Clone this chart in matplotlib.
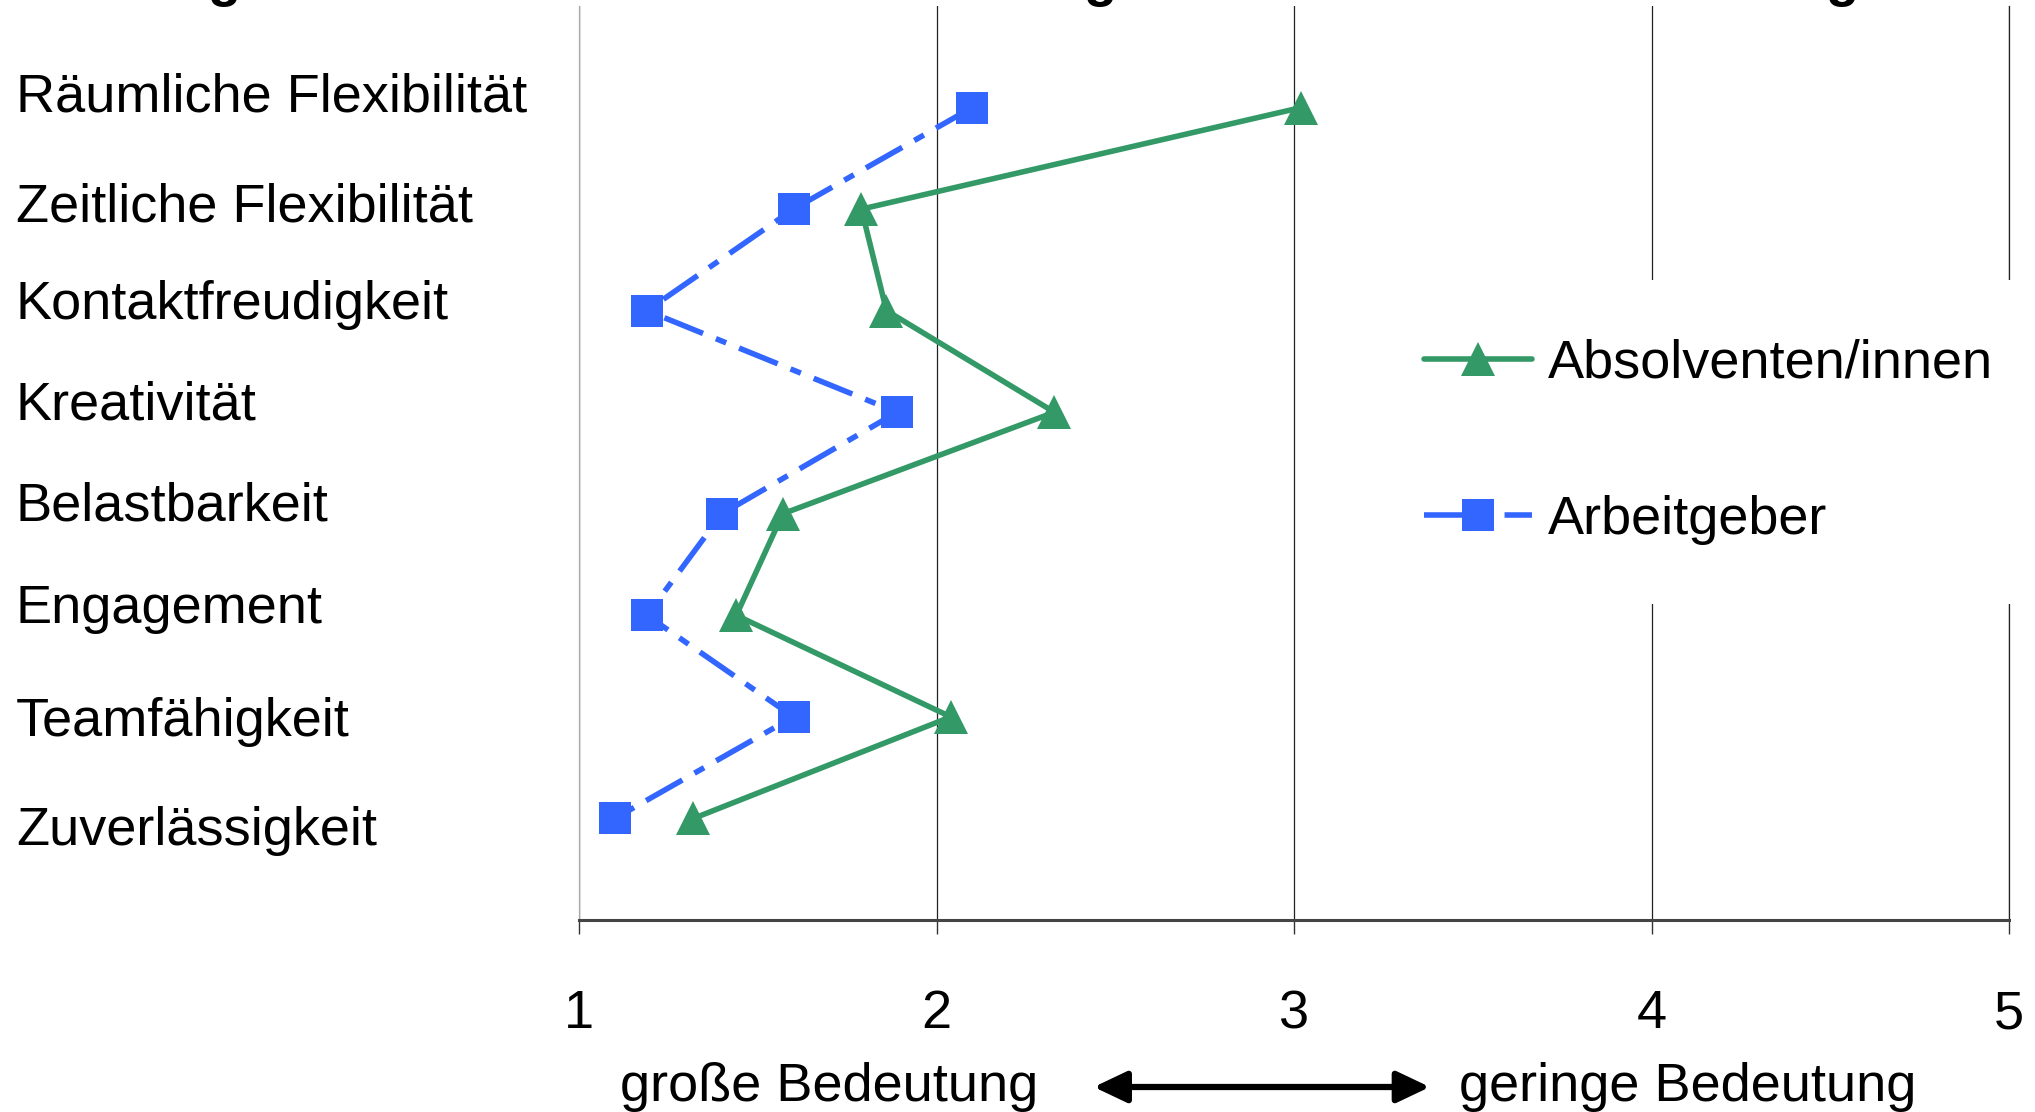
import matplotlib
matplotlib.use("Agg")
import matplotlib.pyplot as plt
from matplotlib.transforms import blended_transform_factory

plt.rcParams["font.family"] = ["Liberation Sans", "DejaVu Sans"]

CATEGORIES = ["Räumliche Flexibilität", "Zeitliche Flexibilität", "Kontaktfreudigkeit",
              "Kreativität", "Belastbarkeit", "Engagement", "Teamfähigkeit", "Zuverlässigkeit"]
ABSOLVENTEN = [3.02, 1.79, 1.86, 2.33, 1.57, 1.44, 2.04, 1.32]
ARBEITGEBER = [2.10, 1.60, 1.19, 1.89, 1.40, 1.19, 1.60, 1.10]
XTICKS = [1, 2, 3, 4, 5]

GREEN = "#339966"
BLUE = "#3366FF"
FS = 39
# small vertical nudges of the row labels (category units), as in the original layout
LABEL_SHIFT = [-0.10, -0.02, -0.06, -0.07, -0.07, -0.06, 0.05, 0.12]

W, H = 2035, 1112
fig = plt.figure(figsize=(W / 100, H / 100), dpi=100)
ax = fig.add_axes([579 / W, 1 - 920 / H, (2009 - 579) / W, (920 - 6) / H])

ypos = list(range(len(CATEGORIES)))
ax.plot(ABSOLVENTEN, ypos, color=GREEN, lw=4, marker="^", ms=25, mew=0,
        solid_capstyle="round", label="Absolventen/innen", zorder=3)
ax.plot(ARBEITGEBER, ypos, color=BLUE, lw=4, marker="s", ms=23, mew=0,
        ls=(0, (7.5, 2.5, 2, 2.5)), label="Arbeitgeber", zorder=3)

ax.set_xlim(1, 5)
ax.set_ylim(len(CATEGORIES), -1)
ax.set_yticks([])
ax.set_xticks(XTICKS)
ax.set_xticklabels([str(v) for v in XTICKS], fontsize=FS)
ax.tick_params(axis="x", length=10, width=1, color="#333333", pad=40)
ax.grid(axis="x", color="#222222", lw=0.9)
ax.spines["top"].set_visible(False)
ax.spines["left"].set_color("#aaaaaa")
ax.spines["left"].set_linewidth(0.9)
ax.spines["right"].set_color("#222222")
ax.spines["right"].set_linewidth(0.9)
ax.spines["bottom"].set_color("#444444")
ax.spines["bottom"].set_linewidth(2.2)

# category labels on the left
tr = blended_transform_factory(fig.transFigure, ax.transData)
for i, name in enumerate(CATEGORIES):
    ax.text(16 / W, i + LABEL_SHIFT[i], name, transform=tr, fontsize=FS,
            ha="left", va="center")

# scale description below the axis
tb = blended_transform_factory(ax.transData, fig.transFigure)
ax.text(1.70, 1 - 1087 / H, "große Bedeutung", transform=tb, fontsize=FS,
        ha="center", va="center", clip_on=False)
ax.text(4.10, 1 - 1087 / H, "geringe Bedeutung", transform=tb, fontsize=FS,
        ha="center", va="center", clip_on=False)
ax.annotate("", xy=(2.44, 1 - 1087 / H), xytext=(3.38, 1 - 1087 / H),
            xycoords=tb, textcoords=tb,
            arrowprops=dict(arrowstyle="<|-|>,head_length=0.8,head_width=0.38",
                            lw=4.5, color="black", mutation_scale=25,
                            shrinkA=0, shrinkB=0), annotation_clip=False)

# descenders of the cut-off title above the figure
for xp in [224, 1100, 1842]:
    fig.text(xp / W, 1 + 4 / H, "g", fontsize=FS, fontweight="bold",
             ha="center", va="baseline")

leg = ax.legend(loc="upper left", bbox_to_anchor=(1365 / W, 1 - 280 / H),
                bbox_transform=fig.transFigure, fontsize=FS, frameon=True,
                fancybox=False, edgecolor="none", facecolor="white", framealpha=1,
                handlelength=2.0, handletextpad=0.3, labelspacing=1.97,
                borderpad=1.08, borderaxespad=0)
leg.set_zorder(5)

fig.savefig("out.png", dpi=100)
